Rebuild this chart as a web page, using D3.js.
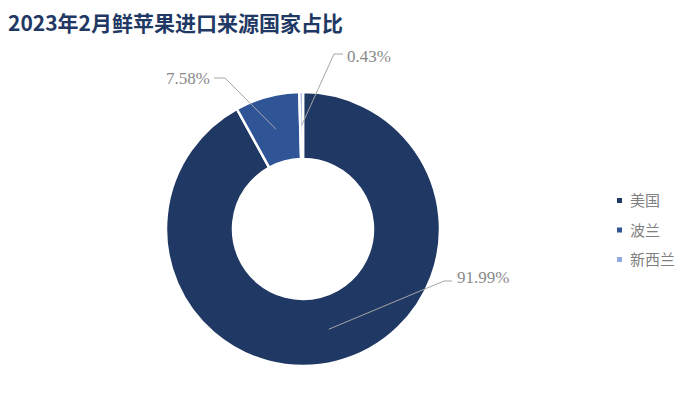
<!DOCTYPE html>
<html>
<head>
<meta charset="utf-8">
<script src="https://cdn.jsdelivr.net/npm/d3@7/dist/d3.min.js"></script>
<style>
  body { margin: 0; background: #fff; }
  svg { display: block; }
</style>
</head>
<body>
<svg id="chart"></svg>
<script>
// 数据
let countries = ['美国', '波兰', '新西兰']
let shares = [91.99, 7.58, 0.43]
let shareLabels = ['91.99%', '7.58%', '0.43%']
let colors = ['#203864', '#2F5597', '#8FAADC']

let svgWidth = 700
let svgHeight = 412
let cx = 303, cy = 229
let outerR = 137, innerR = 70

// 标签位置（相对圆心）：折点 elbow，水平线末端 end，文字锚点 text
let labelLayout = [
  { elbow: [141, 52], end: [149, 52], text: [154, 54], anchor: 'start' },
  { elbow: [-78, -151], end: [-89, -151], text: [-93, -145], anchor: 'end' },
  { elbow: [31, -175], end: [40, -175], text: [44, -167], anchor: 'start' }
]

let svg = d3.select('#chart')
  .attr('width', svgWidth)
  .attr('height', svgHeight)

// 标题
svg.append('text')
  .attr('x', 8)
  .attr('y', 31)
  .attr('font-family', '"Noto Sans CJK SC", sans-serif')
  .attr('font-weight', 'bold')
  .attr('font-size', 21)
  .attr('fill', '#1F3864')
  .text('2023年2月鲜苹果进口来源国家占比')

let pie = d3.pie().sort(null).value(d => d)
let arcs = pie(shares)
let arc = d3.arc().innerRadius(innerR).outerRadius(outerR)
let midArc = d3.arc().innerRadius((innerR + outerR) / 2).outerRadius((innerR + outerR) / 2)

let g = svg.append('g').attr('transform', `translate(${cx},${cy})`)

g.selectAll('path.slice')
  .data(arcs)
  .enter()
  .append('path')
  .attr('class', 'slice')
  .attr('d', arc)
  .attr('fill', (d, i) => colors[i])
  .attr('stroke', '#fff')
  .attr('stroke-width', 2.5)

// 引导线
g.selectAll('polyline')
  .data(arcs)
  .enter()
  .append('polyline')
  .attr('points', (d, i) => {
    let c = midArc.centroid(d)
    let l = labelLayout[i]
    return [c, l.elbow, l.end].map(p => p.join(',')).join(' ')
  })
  .attr('fill', 'none')
  .attr('stroke', '#A6A6A6')
  .attr('stroke-width', 1)

g.selectAll('text.pct')
  .data(arcs)
  .enter()
  .append('text')
  .attr('class', 'pct')
  .attr('x', (d, i) => labelLayout[i].text[0])
  .attr('y', (d, i) => labelLayout[i].text[1])
  .attr('text-anchor', (d, i) => labelLayout[i].anchor)
  .attr('font-family', '"Liberation Serif", serif')
  .attr('font-size', 17)
  .attr('fill', '#898989')
  .text((d, i) => shareLabels[i])

// 图例
let legend = svg.append('g').attr('transform', 'translate(617,200.5)')
let item = legend.selectAll('g')
  .data(countries)
  .enter()
  .append('g')
  .attr('transform', (d, i) => `translate(0,${i * 29.5})`)
item.append('rect')
  .attr('x', 0)
  .attr('y', -2.5)
  .attr('width', 5)
  .attr('height', 5)
  .attr('fill', (d, i) => colors[i])
item.append('text')
  .attr('x', 13)
  .attr('y', 5.5)
  .attr('font-family', '"Noto Sans CJK SC", sans-serif')
  .attr('font-size', 15)
  .attr('fill', '#7F7F7F')
  .text(d => d)
</script>
</body>
</html>
